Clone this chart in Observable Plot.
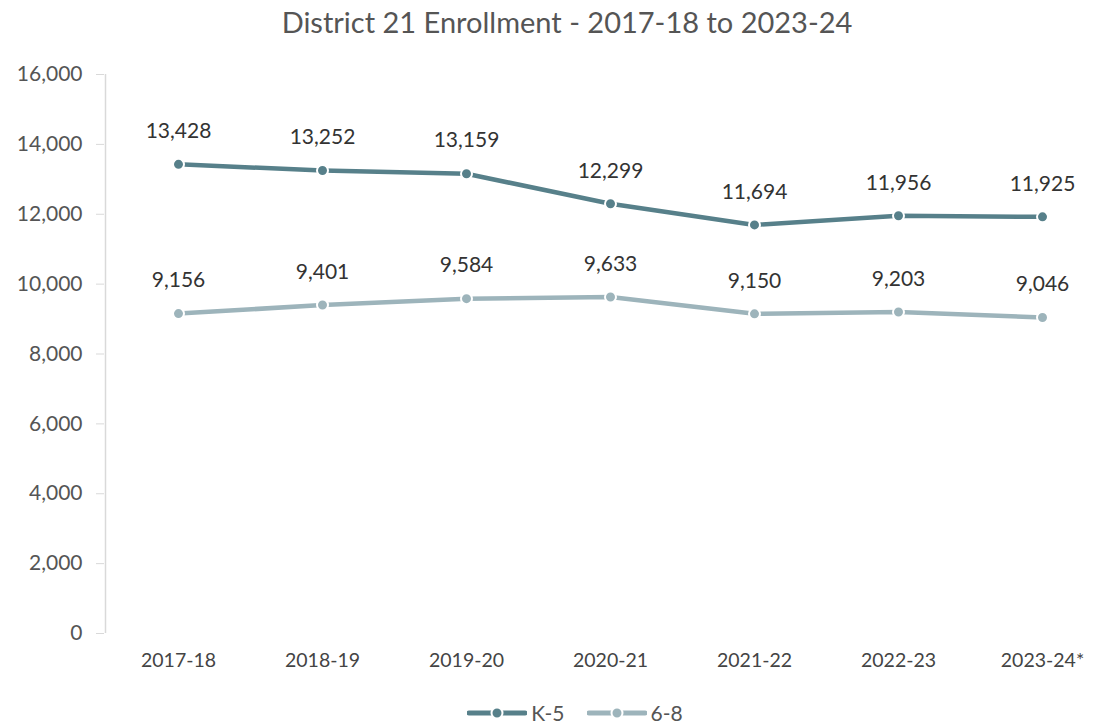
<!DOCTYPE html>
<html><head><meta charset="utf-8">
<script src="https://cdn.jsdelivr.net/npm/d3@7"></script>
<script src="https://cdn.jsdelivr.net/npm/@observablehq/plot@0.6"></script>
<style>
body{margin:0;background:#fff;font-family:Lato,"Open Sans",sans-serif;width:1110px;}
#title{height:45px;line-height:44px;text-align:center;font-size:29px;color:#555;padding-left:24px;}
#legend{display:flex;justify-content:center;align-items:center;gap:22px;font-size:21px;color:#555;margin-top:20px;padding-left:40px;}
.item{display:flex;align-items:center;gap:4px;}
</style></head><body>
<div id="title">District 21 Enrollment - 2017-18 to 2023-24</div>
<div id="chart"></div>
<div id="legend"></div>
<script>
const years = ["2017-18","2018-19","2019-20","2020-21","2021-22","2022-23","2023-24*"];
const k5 = [13428,13252,13159,12299,11694,11956,11925];
const g68 = [9156,9401,9584,9633,9150,9203,9046];
const seriesNames = ["K-5","6-8"];
const seriesColors = ["#57808a","#9db4bb"];
const yTicks = [0,2000,4000,6000,8000,10000,12000,14000,16000];

const data = [];
years.forEach((y,i)=>{
  data.push({year:y, value:k5[i], series:"K-5"});
  data.push({year:y, value:g68[i], series:"6-8"});
});
const fmt = d3.format(",");
const chart = Plot.plot({
  width:1110, height:635,
  marginTop:29, marginBottom:47, marginLeft:104, marginRight:0,
  style:{fontFamily:"Lato, 'Open Sans', sans-serif", color:"#555", background:"#fff"},
  x:{type:"point", domain:years, range:[105,1114], label:null},
  y:{domain:[0,16000], label:null},
  color:{domain:seriesNames, range:seriesColors},
  marks:[
    Plot.ruleX([0],{x:()=>years[0], dx:-73, y1:0, y2:16000, stroke:"#d9d9d9", strokeWidth:1.5}),
    Plot.ruleY([0],{x1:null, stroke:"#d9d9d9", strokeWidth:1.5, insetLeft:-8}),
    Plot.axisY({ticks:yTicks, tickFormat:fmt, tickSize:8, stroke:"#d9d9d9", tickPadding:14, fontSize:21, fill:"#555"}),
    Plot.axisX({tickSize:0, tickPadding:20, fontSize:19.5, fill:"#444"}),
    Plot.line(data,{x:"year", y:"value", stroke:"series", strokeWidth:4.5}),
    Plot.dot(data,{x:"year", y:"value", fill:"series", r:5.5, stroke:"white", strokeWidth:2}),
    Plot.text(data,{x:"year", y:"value", text:d=>fmt(d.value), dy:-33, fontSize:21, fill:"#333"})
  ]
});
document.getElementById("chart").appendChild(chart);

const leg = document.getElementById("legend");
seriesNames.forEach((n,i)=>{
  const it = document.createElement("div"); it.className="item";
  it.innerHTML = `<svg width="60" height="14"><line x1="2" y1="7" x2="58" y2="7" stroke="${seriesColors[i]}" stroke-width="5" stroke-linecap="round"/><circle cx="30" cy="7" r="5.5" fill="${seriesColors[i]}" stroke="white" stroke-width="2"/></svg><span>${n}</span>`;
  leg.appendChild(it);
});
</script>
</body></html>
